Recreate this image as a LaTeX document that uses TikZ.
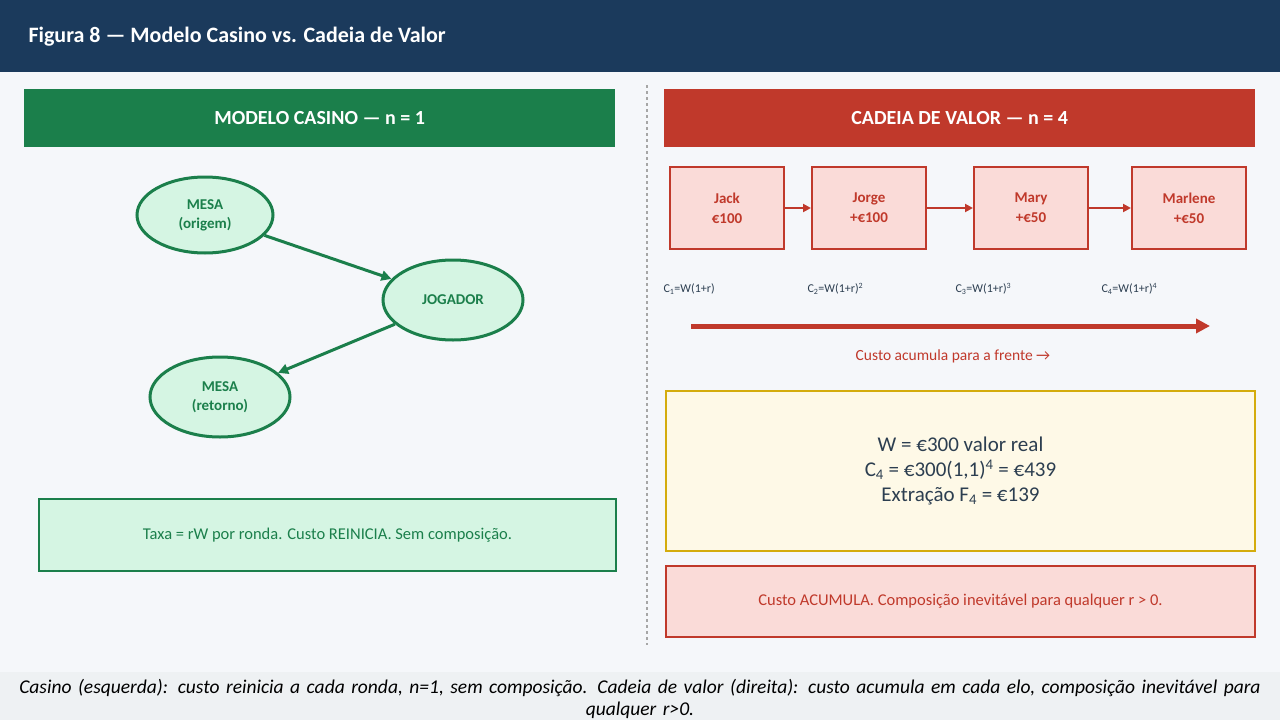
\documentclass[tikz,border=0pt]{standalone}
\usepackage{fontspec}
\setmainfont{Carlito}
\usetikzlibrary{arrows.meta,shapes.geometric}
\definecolor{navy}{HTML}{1B3A5C}
\definecolor{page}{HTML}{F5F7FA}
\definecolor{captionbg}{HTML}{EEF1F3}
\definecolor{casino}{HTML}{1B7F4B}
\definecolor{casinofill}{HTML}{D5F5E3}
\definecolor{chain}{HTML}{C0392B}
\definecolor{chainfill}{HTML}{FADBD8}
\definecolor{gold}{HTML}{D4AC0D}
\definecolor{goldfill}{HTML}{FEF9E7}
\definecolor{textdark}{HTML}{2C3E50}
\tikzset{
  banner/.style={anchor=north west, inner sep=0pt, font=\bfseries\fontsize{20}{22}\selectfont, text=white},
  place/.style={ellipse, draw=casino, line width=3pt, fill=casinofill, text=casino,
    font=\bfseries\fontsize{15}{19}\selectfont, align=center, inner sep=0pt},
  link/.style={draw=chain, line width=2pt, fill=chainfill, text=chain, minimum width=114pt,
    minimum height=82pt, anchor=north west, font=\bfseries\fontsize{15}{20}\selectfont, align=center},
  cost/.style={anchor=west, font=\fontsize{12}{14}\selectfont, text=textdark},
}
\begin{document}
\begin{tikzpicture}[x=1pt,y=-1pt]
\useasboundingbox (0,0) rectangle (1280,720);
\fill[page] (0,0) rectangle (1280,720);
\fill[navy] (0,0) rectangle (1280,72);
\node[anchor=west, text=white, font=\bfseries\fontsize{22}{26}\selectfont] (title) at (25,37) {Figura 8 — Modelo Casino vs. Cadeia de Valor};
\draw[gray!70, dashed, line width=1.5pt] (647,85) -- (647,645);

% casino side
\node[banner, fill=casino, minimum width=591pt, minimum height=58pt] (lhead) at (24,89) {MODELO CASINO — n = 1};
\node[place, minimum width=136pt, minimum height=76pt] (origem) at (205,215) {MESA\\(origem)};
\node[place, minimum width=140pt, minimum height=80pt] (jogador) at (453,300) {JOGADOR};
\node[place, minimum width=140pt, minimum height=80pt] (retorno) at (220,397) {MESA\\(retorno)};
\draw[casino, -{Triangle[length=10pt,width=10pt]}, line width=3pt] (origem) -- (jogador);
\draw[casino, -{Triangle[length=10pt,width=10pt]}, line width=3pt] (jogador) -- (retorno);
\node[draw=casino, line width=2pt, fill=casinofill, text=casino, minimum width=577pt, minimum height=72pt,
  anchor=north west, font=\fontsize{16.5}{20}\selectfont] (lnote) at (38,498) {Taxa = rW por ronda. Custo REINICIA. Sem composição.};

% value chain side
\node[banner, fill=chain, minimum width=591pt, minimum height=58pt] (rhead) at (664,89) {CADEIA DE VALOR — n = 4};
\node[link] (jack) at (669,166) {Jack\\€100};
\node[link] (jorge) at (811,166) {Jorge\\+€100};
\node[link] (mary) at (973,166) {Mary\\+€50};
\node[link] (marlene) at (1131,166) {Marlene\\+€50};
\foreach \a/\b in {jack/jorge, jorge/mary, mary/marlene}
  \draw[chain, -{Triangle[length=8pt,width=8pt]}, line width=2.5pt] (\a) -- (\b);
\node[cost] (c1) at (660,289) {C\textsubscript{1}=W(1+r)};
\node[cost] (c2) at (804,289) {C\textsubscript{2}=W(1+r)\textsuperscript{2}};
\node[cost] (c3) at (952,289) {C\textsubscript{3}=W(1+r)\textsuperscript{3}};
\node[cost] (c4) at (1098,289) {C\textsubscript{4}=W(1+r)\textsuperscript{4}};
\coordinate (fstart) at (691,326);
\coordinate (fend) at (1210,326);
\draw[chain, -{Triangle[length=14pt,width=14pt]}, line width=5pt] (fstart) -- (fend);
\node[text=chain, font=\fontsize{15.5}{18}\selectfont] (flabel) at (953,356) {Custo acumula para a frente →};
\node[draw=gold, line width=2pt, fill=goldfill, text=textdark, minimum width=589pt, minimum height=160pt,
  anchor=north west, align=center, font=\fontsize{21}{25}\selectfont] (sums) at (665,390)
  {W = €300 valor real\\C\textsubscript{4} = €300(1,1)\textsuperscript{4} = €439\\Extração F\textsubscript{4} = €139};
\node[draw=chain, line width=2pt, fill=chainfill, text=chain, minimum width=589pt, minimum height=71pt,
  anchor=north west, font=\fontsize{16.5}{20}\selectfont] (rnote) at (665,565) {Custo ACUMULA. Composição inevitável para qualquer r > 0.};

% caption
\fill[captionbg] (0,672) rectangle (1280,720);
\begin{scope}
\clip (0,672) rectangle (1280,720);
\node[text width=1262pt, align=center, font=\itshape\fontsize{19.5}{22}\selectfont] (caption) at (640,699)
  {Casino (esquerda): custo reinicia a cada ronda, n=1, sem composição. Cadeia de valor (direita): custo acumula em cada elo, composição inevitável para qualquer r>0.};
\end{scope}
\end{tikzpicture}
\end{document}
